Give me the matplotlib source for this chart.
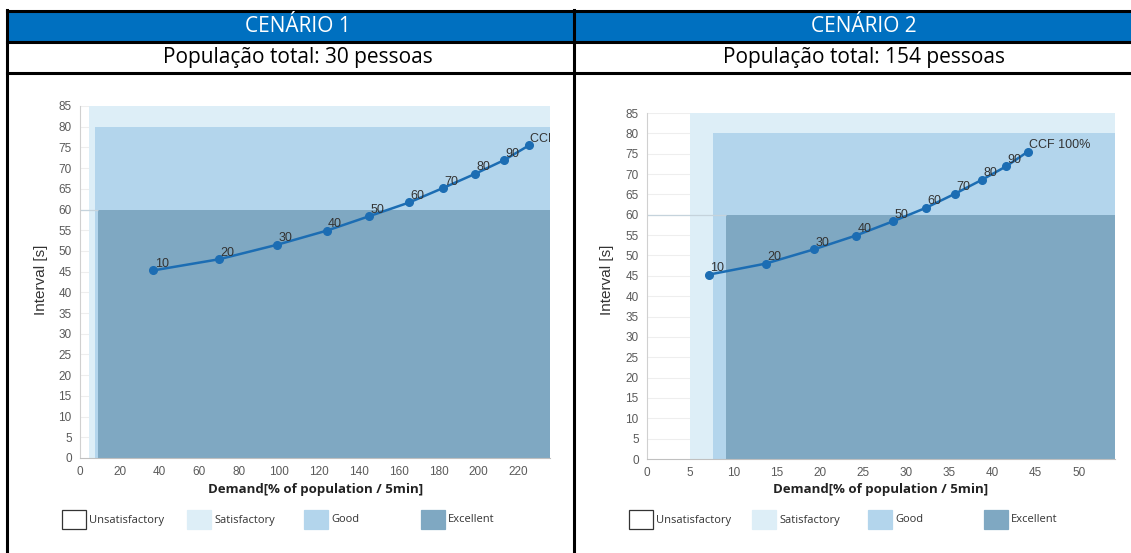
import numpy as np
import matplotlib.pyplot as plt
from matplotlib.patches import Rectangle

# ---------- Daten ----------
labels = ["10", "20", "30", "40", "50", "60", "70", "80", "90", "CCF 100%"]
interval = [45.3, 48.0, 51.5, 54.9, 58.4, 61.7, 65.2, 68.6, 71.9, 75.5]

demand1 = [36.8, 69.9, 99.0, 123.9, 145.3, 165.3, 182.3, 198.3, 212.8, 225.5]
demand2 = [7.17, 13.74, 19.33, 24.2, 28.5, 32.3, 35.7, 38.8, 41.6, 44.1]

band_names = ["Unsatisfactory", "Satisfactory", "Good", "Excellent"]
band_colors = ["#ffffff", "#ddeef7", "#b3d5ec", "#7fa8c2"]
band_top = [85, 80, 60]  # Satisfactory, Good, Excellent
band_start1 = [4.4, 7.3, 9.0]
band_start2 = [5.0, 7.6, 9.1]

headers = ["CENÁRIO 1", "CENÁRIO 2"]
subtitles = ["População total: 30 pessoas", "População total: 154 pessoas"]

xticks1 = np.arange(0, 221, 20)
xticks2 = np.arange(0, 51, 5)
yticks = np.arange(0, 86, 5)

# ---------- Figur ----------
W, H = 1131, 553
fig = plt.figure(figsize=(W / 100, H / 100), dpi=100)
fig.patch.set_facecolor("white")

head_font = ["Liberation Sans Narrow", "Open Sans", "DejaVu Sans"]
chart_font = ["Liberation Sans", "DejaVu Sans"]


def box(l, t, r, b):
    return [l / W, 1 - b / H, (r - l) / W, (b - t) / H]


# ---------- Tabelle (Hintergrund) ----------
bg = fig.add_axes([0, 0, 1, 1])
bg.set_xlim(0, W)
bg.set_ylim(H, 0)
bg.axis("off")

bg.add_patch(Rectangle((7, 11), W - 7, 31, color="#0070c0", lw=0))
lw = 2.2
bg.plot([6.5, W], [10.5, 10.5], color="black", lw=lw)
bg.plot([6.5, W], [42, 42], color="black", lw=lw)
bg.plot([6.5, W], [72.5, 72.5], color="black", lw=lw)
bg.plot([6.5, 6.5], [10, H], color="black", lw=lw)
bg.plot([574, 574], [10, H], color="black", lw=lw)

col_center = [298, 864]
for i in range(2):
    bg.text(col_center[i], 27, headers[i], color="white", fontsize=15,
            family=head_font, ha="center", va="center")
    bg.text(col_center[i], 58, subtitles[i], color="black", fontsize=15,
            family=head_font, ha="center", va="center")


# ---------- Diagramme ----------
def chart(rect, demand, band_start, xmax, xticks):
    ax = fig.add_axes(rect)
    ax.set_xlim(0, xmax)
    ax.set_ylim(0, 85)

    for y in yticks[1:]:
        ax.axhline(y, color="#eeeeee", lw=0.8, zorder=0)

    for s, top, c in zip(band_start, band_top, band_colors[1:]):
        ax.fill_between([s, xmax], 0, top, color=c, lw=0, zorder=1)
    ax.hlines(60, 0, band_start[2], color="#c5d3dc", lw=0.9, zorder=2)

    ax.plot(demand, interval, color="#1c6db3", lw=1.8, marker="o",
            markersize=5.5, zorder=3)
    for x, y, t in zip(demand, interval, labels):
        ax.annotate(t, (x, y), xytext=(1, 2.5), textcoords="offset points",
                    fontsize=9, color="#333333", family=chart_font,
                    zorder=4, annotation_clip=False, clip_on=True)

    ax.set_xticks(xticks)
    ax.set_yticks(yticks)
    ax.tick_params(length=0, labelsize=8.5, labelcolor="#5a5a5a", pad=6)
    for lab in ax.get_xticklabels() + ax.get_yticklabels():
        lab.set_family(chart_font)
    for s in ["top", "right"]:
        ax.spines[s].set_visible(False)
    ax.spines["left"].set_color("#d0d0d0")
    ax.spines["bottom"].set_color("#c0c0c0")
    ax.set_facecolor("none")
    return ax


chart(box(80, 106, 550, 458), demand1, band_start1, 236, xticks1)
chart(box(647, 113, 1115, 459), demand2, band_start2, 54.2, xticks2)

# ---------- Achsentitel und Legende ----------
xlab_x = [316, 881]
ylab_x = [41, 607]
leg_box_x = [[62, 187, 304, 421], [629, 752, 868, 984]]
for i in range(2):
    bg.text(xlab_x[i], 489, "Demand[% of population / 5min]", fontsize=9.5,
            fontweight="bold", family=head_font, color="#222222",
            ha="center", va="center")
    bg.text(ylab_x[i], 280, "Interval [s]", fontsize=11, rotation=90,
            family=chart_font, color="#333333", ha="center", va="center")
    for bx, name, c in zip(leg_box_x[i], band_names, band_colors):
        ec = "#333333" if c == "#ffffff" else c
        bg.add_patch(Rectangle((bx, 510), 24, 19, facecolor=c, edgecolor=ec, lw=0.9))
        bg.text(bx + 27, 520, name, fontsize=8, family=head_font,
                color="#333333", ha="left", va="center")

fig.savefig("out.png", dpi=100)
